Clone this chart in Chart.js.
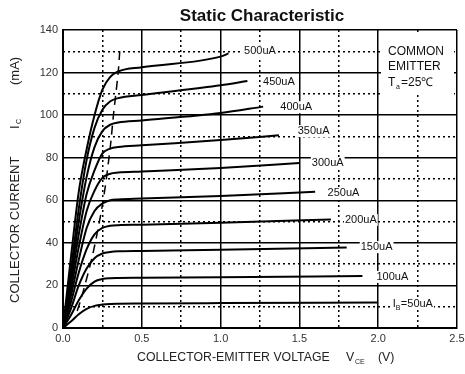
<!DOCTYPE html>
<html>
<head>
<meta charset="utf-8">
<script src="https://cdn.jsdelivr.net/npm/chart.js@4/dist/chart.umd.min.js"></script>
<style>
  html, body { margin: 0; padding: 0; background: #fff; }
  #wrap { width: 465px; height: 374px; }
</style>
</head>
<body>
<div id="wrap"><canvas id="chart_cv" width="465" height="374"></canvas></div>
<script>
// データ
const vKnee = [0, 0.05, 0.1, 0.15, 0.2, 0.25, 0.3, 0.35, 0.5, 1.0];
const baseCurrents = ['50uA', '100uA', '150uA', '200uA', '250uA', '300uA', '350uA', '400uA', '450uA', '500uA'];
const ib50  = [0, 3, 6.5, 9, 10.4, 11, 11.3, 11.4, 11.5, 11.7];
const ib100 = [0, 6, 13, 18.5, 21.8, 23, 23.4, 23.5, 23.6, 23.9];
const ib150 = [0, 9, 20, 28, 32.8, 35, 35.7, 36, 36.2, 36.8];
const ib200 = [0, 12, 26, 37, 44, 47, 48, 48.3, 48.5, 49.5];
const ib250 = [0, 15, 32, 47, 55, 58.5, 60, 60.4, 60.8, 62];
const ib300 = [0, 18, 38, 55, 64.5, 70.5, 72.5, 73, 73.5, 75.2];
const ib350 = [0, 21, 44, 63, 74, 82, 84.3, 85, 85.8, 88.3];
const ib400 = [0, 24, 50, 71, 85, 92.5, 95.5, 96.5, 97.5, 101];
const ib450 = [0, 27, 56, 79, 94, 102.5, 106.5, 108, 109.5, 114];
const ib500 = [0, 33, 64, 84, 100, 112, 118, 120.5, 122.5, 127.5];
// 各曲線の終点 (V, mA)
const endV = [2.0, 1.9, 1.8, 1.7, 1.6, 1.5, 1.37, 1.27, 1.17, 1.05];
const endI = [12.0, 24.4, 37.8, 51, 64, 77.5, 90.5, 104, 116, 129];
// 飽和領域の境界（破線）
const vSat = [0.09, 0.12, 0.19, 0.255, 0.3, 0.32, 0.35, 0.36];
const iSat = [8, 15, 35, 60, 85, 100, 120, 130];
// 目盛り
const xTicks = [0, 0.5, 1.0, 1.5, 2.0, 2.5];
const yTicks = [0, 20, 40, 60, 80, 100, 120, 140];

const allCurves = [ib50, ib100, ib150, ib200, ib250, ib300, ib350, ib400, ib450, ib500];

const datasets = allCurves.map((arr, k) => {
  const pts = vKnee.map((v, i) => ({ x: v, y: arr[i] }))
    .filter(p => p.x < endV[k]);
  pts.push({ x: endV[k], y: endI[k] });
  return {
    label: baseCurrents[k],
    data: pts,
    borderColor: '#000',
    borderWidth: 2,
    pointRadius: 0,
    cubicInterpolationMode: 'monotone',
    fill: false
  };
});
datasets.push({
  label: 'sat',
  data: vSat.map((v, i) => ({ x: v, y: iSat[i] })),
  borderColor: '#000',
  borderWidth: 1.5,
  borderDash: [9, 6],
  pointRadius: 0,
  tension: 0.3,
  fill: false
});

const FONT = '"Liberation Sans", Arial, sans-serif';

// ラベルなどの描画
const labelPlugin = {
  id: 'labels',
  beforeDatasetsDraw(chart) {
    const { ctx } = chart;
    const xs = chart.scales.x, ys = chart.scales.y;
    // 曲線ラベル位置 (V, mA)
    const lx = [2.22, 2.09, 1.99, 1.89, 1.78, 1.68, 1.59, 1.48, 1.37, 1.25];
    const ly = [11.3, 24, 38, 50.7, 63.4, 77.5, 92.5, 103.7, 115.5, 130];
    ctx.save();
    ctx.font = '11px ' + FONT;
    ctx.textBaseline = 'middle';
    baseCurrents.forEach((t, k) => {
      const px = xs.getPixelForValue(lx[k]);
      const py = ys.getPixelForValue(ly[k]);
      const txt = k === 0 ? '=' + t : t;
      const w = (k === 0 ? ctx.measureText('I').width + 5 : 0) + ctx.measureText(txt).width;
      ctx.fillStyle = '#fff';
      ctx.fillRect(px - w / 2 - 1, py - 6, w + 2, 12);
      ctx.fillStyle = '#111';
      ctx.textAlign = 'left';
      let cx = px - w / 2;
      if (k === 0) {
        ctx.fillText('I', cx, py);
        cx += ctx.measureText('I').width;
        ctx.font = '7px ' + FONT;
        ctx.fillText('B', cx, py + 4);
        cx += 5;
        ctx.font = '11px ' + FONT;
      }
      ctx.fillText(txt, cx, py);
    });
    // COMMON EMITTER ボックス
    ctx.fillStyle = '#fff';
    ctx.fillRect(381, 33, 73, 62);
    ctx.fillStyle = '#111';
    ctx.font = '12px ' + FONT;
    ctx.textAlign = 'left';
    ctx.fillText('COMMON', 388, 52);
    ctx.fillText('EMITTER', 388, 67);
    ctx.fillText('T', 388, 83);
    ctx.font = '7px ' + FONT;
    ctx.fillText('a', 396, 87);
    ctx.font = '12px ' + FONT;
    ctx.fillText('=25\u2103', 401, 83);
    ctx.restore();
  },
  afterDraw(chart) {
    const { ctx } = chart;
    ctx.save();
    ctx.fillStyle = '#111';
    ctx.textBaseline = 'middle';
    // タイトル
    ctx.font = 'bold 17px ' + FONT;
    ctx.textAlign = 'center';
    ctx.fillText('Static Characteristic', 262, 16);
    // X軸タイトル
    ctx.font = '12.3px ' + FONT;
    ctx.textAlign = 'left';
    ctx.fillStyle = '#222';
    ctx.fillText('COLLECTOR-EMITTER VOLTAGE', 137, 358);
    ctx.fillText('V', 346, 358);
    ctx.font = '7px ' + FONT;
    ctx.fillText('CE', 355, 362);
    ctx.font = '12.3px ' + FONT;
    ctx.fillText('(V)', 378, 358);
    // Y軸タイトル
    ctx.translate(15, 0);
    ctx.rotate(-Math.PI / 2);
    ctx.font = '13px ' + FONT;
    ctx.fillText('COLLECTOR CURRENT', -303, 0);
    ctx.fillText('I', -129, 0);
    ctx.font = '7px ' + FONT;
    ctx.fillText('C', -124, 4);
    ctx.font = '13px ' + FONT;
    ctx.fillText('(mA)', -85, 0);
    ctx.restore();
  }
};

const ctx = document.getElementById('chart_cv');
const chart_cv = new Chart(ctx, {
  type: 'line',
  data: { datasets: datasets },
  plugins: [labelPlugin],
  options: {
    responsive: false,
    animation: false,
    events: [],
    layout: { padding: { top: 30, right: 8, left: 0, bottom: 0 } },
    plugins: { legend: { display: false }, title: { display: false }, tooltip: { enabled: false } },
    scales: {
      x2: { // 補助目盛り（点線）
        type: 'linear', position: 'bottom', min: 0, max: 2.5,
        ticks: { display: false, stepSize: 0.25 },
        grid: {
          drawTicks: false,
          lineWidth: 1.5,
          color: c => (Math.abs(c.tick.value * 2 - Math.round(c.tick.value * 2)) < 1e-6) ? 'rgba(0,0,0,0)' : '#000'
        },
        border: { display: false, dash: [2, 3] },
        afterFit: s => { s.height = 0; s.paddingLeft = 0; s.paddingRight = 0; }
      },
      y2: {
        type: 'linear', position: 'left', min: 0, max: 140,
        ticks: { display: false, stepSize: 10 },
        grid: {
          drawTicks: false,
          lineWidth: 1.5,
          color: c => (c.tick.value % 20 === 0) ? 'rgba(0,0,0,0)' : '#000'
        },
        border: { display: false, dash: [2, 3] },
        afterFit: s => { s.width = 0; }
      },
      x: {
        type: 'linear', position: 'bottom', min: 0, max: 2.5,
        afterBuildTicks: s => { s.ticks = xTicks.map(v => ({ value: v })); },
        ticks: {
          color: '#333',
          font: { family: FONT, size: 11 },
          padding: 4,
          maxRotation: 0,
          callback: v => v.toFixed(1)
        },
        grid: { color: '#000', lineWidth: 1.5, drawTicks: false },
        border: { color: '#000', width: 2 },
        afterFit: s => { s.height = 46; s.paddingLeft = 0; s.paddingRight = 0; }
      },
      y: {
        type: 'linear', position: 'left', min: 0, max: 140,
        afterBuildTicks: s => { s.ticks = yTicks.map(v => ({ value: v })); },
        ticks: {
          color: '#333',
          font: { family: FONT, size: 11 },
          padding: 5
        },
        grid: { color: '#000', lineWidth: 1.5, drawTicks: false },
        border: { color: '#000', width: 2 },
        afterFit: s => { s.width = 63; s.paddingTop = 0; s.paddingBottom = 0; }
      }
    }
  }
});
</script>
</body>
</html>
